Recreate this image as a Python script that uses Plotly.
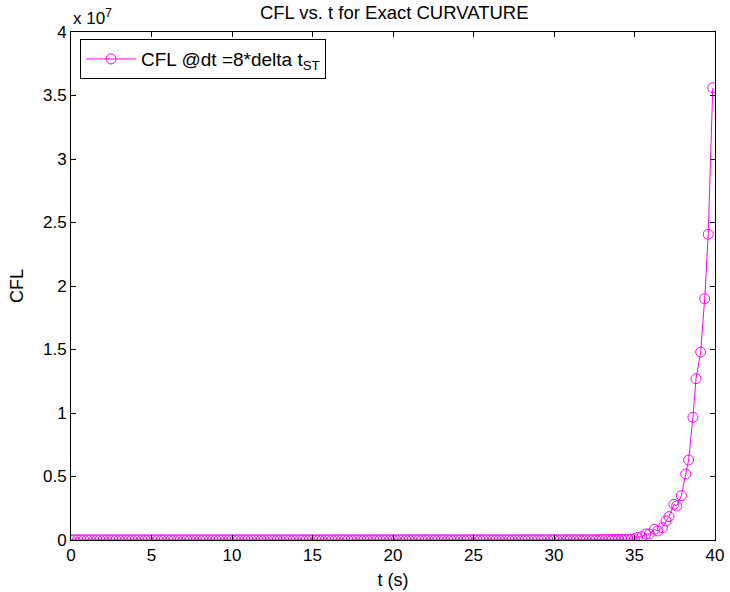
import plotly.graph_objects as go

# time (s) of each saved step
t_flat = [
    0.0, 0.2, 0.4, 0.6, 0.8, 1.0, 1.2, 1.4, 1.6, 1.8,
    2.0, 2.2, 2.4, 2.6, 2.8, 3.0, 3.2, 3.4, 3.6, 3.8,
    4.0, 4.2, 4.4, 4.6, 4.8, 5.0, 5.2, 5.4, 5.6, 5.8,
    6.0, 6.2, 6.4, 6.6, 6.8, 7.0, 7.2, 7.4, 7.6, 7.8,
    8.0, 8.2, 8.4, 8.6, 8.8, 9.0, 9.2, 9.4, 9.6, 9.8,
    10.0, 10.2, 10.4, 10.6, 10.8, 11.0, 11.2, 11.4, 11.6, 11.8,
    12.0, 12.2, 12.4, 12.6, 12.8, 13.0, 13.2, 13.4, 13.6, 13.8,
    14.0, 14.2, 14.4, 14.6, 14.8, 15.0, 15.2, 15.4, 15.6, 15.8,
    16.0, 16.2, 16.4, 16.6, 16.8, 17.0, 17.2, 17.4, 17.6, 17.8,
    18.0, 18.2, 18.4, 18.6, 18.8, 19.0, 19.2, 19.4, 19.6, 19.8,
    20.0, 20.2, 20.4, 20.6, 20.8, 21.0, 21.2, 21.4, 21.6, 21.8,
    22.0, 22.2, 22.4, 22.6, 22.8, 23.0, 23.2, 23.4, 23.6, 23.8,
    24.0, 24.2, 24.4, 24.6, 24.8, 25.0, 25.2, 25.4, 25.6, 25.8,
    26.0, 26.2, 26.4, 26.6, 26.8, 27.0, 27.2, 27.4, 27.6, 27.8,
    28.0, 28.2, 28.4, 28.6, 28.8, 29.0, 29.2, 29.4, 29.6, 29.8,
    30.0, 30.2, 30.4, 30.6, 30.8, 31.0, 31.2, 31.4, 31.6, 31.8,
    32.0, 32.2, 32.4, 32.6, 32.8, 33.0, 33.2, 33.4, 33.6, 33.8,
    34.0, 34.2, 34.4, 34.6, 34.8, 35.0,
]
cfl_flat = [
    12000, 11000, 11500, 12000, 11800, 12200, 11900, 12100, 12300, 12000,
    12400, 12100, 12500, 12200, 12600, 12300, 12700, 12400, 12800, 12500,
    12900, 12600, 13000, 12700, 13100, 12800, 13200, 12900, 13300, 13000,
    13400, 13100, 13500, 13200, 13600, 13300, 13700, 13400, 13800, 13500,
    13900, 13600, 14000, 13700, 14100, 13800, 14200, 13900, 14300, 14000,
    14400, 14100, 14500, 14200, 14600, 14300, 14700, 14400, 14800, 14500,
    14900, 14600, 15000, 14700, 15100, 14800, 15200, 14900, 15300, 15000,
    15400, 15100, 15500, 15200, 15600, 15300, 15700, 15400, 15800, 15500,
    15900, 15600, 16000, 15700, 16100, 15800, 16200, 15900, 16300, 16000,
    16400, 16100, 16500, 16200, 16600, 16300, 16700, 16400, 16800, 16500,
    16900, 16600, 17000, 16700, 17100, 16800, 17200, 16900, 17300, 17000,
    17400, 17100, 17500, 17200, 17600, 17300, 17700, 17400, 17800, 17500,
    17900, 17600, 18000, 17700, 18100, 17800, 18200, 17900, 18300, 18000,
    18400, 18100, 18500, 18200, 18600, 18300, 18700, 18400, 18800, 18500,
    18900, 18600, 19000, 18700, 19100, 18800, 19200, 18900, 19300, 19000,
    19400, 19100, 19500, 19200, 19600, 19300, 19700, 19400, 19800, 19500,
    20000, 21000, 22000, 23000, 24000, 26000, 28000, 30000, 33000, 36000,
    40000, 45000, 52000, 60000, 70000, 85000,
]
t_rise = [35.18, 35.45, 35.71, 35.92, 36.23, 36.44, 36.73, 36.96, 37.14, 37.45,
          37.62, 37.91, 38.18, 38.36, 38.63, 38.82, 39.11, 39.36, 39.58, 39.86]
cfl_rise = [200000, 260000, 470000, 470000, 840000, 710000, 970000, 1500000, 1840000, 2810000,
            2680000, 3490000, 5200000, 6300000, 9660000, 12700000, 14800000, 19000000, 24070000, 35610000]

x_ticks = [0, 5, 10, 15, 20, 25, 30, 35, 40]
y_ticks = [0, 0.5, 1, 1.5, 2, 2.5, 3, 3.5, 4]
y_tick_text = ["0", "0.5", "1", "1.5", "2", "2.5", "3", "3.5", "4"]
scale = 1e7

t_all = t_flat + t_rise
cfl_all = [v / scale for v in cfl_flat + cfl_rise]

FONT = "Liberation Sans, Arial, Helvetica, sans-serif"
MAG = "#FF00FF"
TICK_SIZE = 17
LABEL_SIZE = 18

fig = go.Figure()
fig.add_trace(go.Scatter(
    x=t_all, y=cfl_all, mode="lines+markers",
    name="CFL @dt =8*delta t<sub>ST</sub>",
    line=dict(color=MAG, width=1),
    marker=dict(symbol="circle-open", size=10, color=MAG, line=dict(width=1, color=MAG)),
))

axis_common = dict(
    showline=True, linecolor="black", linewidth=1, mirror="ticks",
    ticks="inside", ticklen=5, tickcolor="black", tickwidth=1,
    showgrid=False, zeroline=False, automargin=False,
    tickfont=dict(family=FONT, size=TICK_SIZE, color="black"),
)

fig.update_layout(
    width=730, height=592,
    margin=dict(l=71, r=15, t=32, b=52),
    paper_bgcolor="white", plot_bgcolor="white",
    font=dict(family=FONT, size=TICK_SIZE, color="black"),
    title=dict(text="CFL vs. t for Exact CURVATURE", x=0.54, xanchor="center",
               y=0.99, yanchor="top", automargin=False,
               font=dict(family=FONT, size=LABEL_SIZE + 0.5, color="black")),
    xaxis=dict(range=[0, 40], tickvals=x_ticks, ticktext=[str(v) for v in x_ticks],
               title=dict(text="t (s)", standoff=8, font=dict(family=FONT, size=LABEL_SIZE)),
               **axis_common),
    yaxis=dict(range=[0, 4], tickvals=y_ticks, ticktext=y_tick_text,
               title=dict(text="CFL", standoff=14, font=dict(family=FONT, size=LABEL_SIZE)),
               **axis_common),
    showlegend=True,
    legend=dict(x=0.014, y=0.986, xanchor="left", yanchor="top",
                bgcolor="white", bordercolor="black", borderwidth=1,
                itemwidth=50,
                font=dict(family=FONT, size=LABEL_SIZE + 1, color="black")),
    annotations=[dict(text="x 10<sup>7</sup>", xref="paper", yref="paper",
                      x=0.0, y=1.0, xanchor="left", yanchor="bottom", yshift=2,
                      showarrow=False, font=dict(family=FONT, size=TICK_SIZE, color="black"))],
)

fig.write_html("out.html")
